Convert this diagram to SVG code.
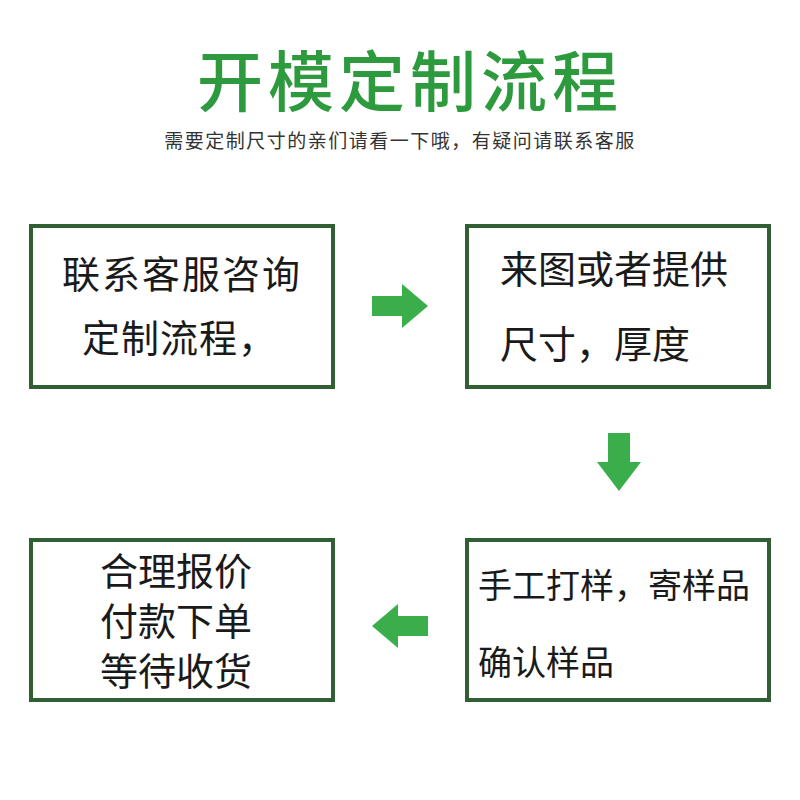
<svg xmlns="http://www.w3.org/2000/svg" width="800" height="800" viewBox="0 0 800 800">
<style>
.box{fill:#fff;stroke:#2f5f33;stroke-width:4}
.t{font-family:"Noto Sans CJK SC",sans-serif;fill:#1a1a1a;font-size:38px}
.s{font-size:34px}
.ar{fill:#3aae4a}
</style>
<rect width="800" height="800" fill="#fff"/>
<text x="410" y="106" text-anchor="middle" font-family="Noto Sans CJK SC,sans-serif" font-weight="500" font-size="66" fill="#2e9a3e" letter-spacing="5">开模定制流程</text>
<text x="400" y="148" text-anchor="middle" font-family="Noto Sans CJK SC,sans-serif" font-size="19" fill="#333" letter-spacing="1.5">需要定制尺寸的亲们请看一下哦，有疑问请联系客服</text>
<g id="n1"><rect class="box" x="31" y="226" width="302" height="161"/>
<text class="t" x="182" y="288" text-anchor="middle" letter-spacing="2">联系客服咨询</text>
<text class="t" x="82" y="352" letter-spacing="1">定制流程，</text></g>
<g id="n2"><rect class="box" x="467" y="226" width="302" height="161"/>
<text class="t" x="500" y="283">来图或者提供</text>
<text class="t" x="500" y="358">尺寸，厚度</text></g>
<g id="n3"><rect class="box" x="467" y="540" width="302" height="160"/>
<text class="t s" x="478" y="598">手工打样，寄样品</text>
<text class="t s" x="478" y="675">确认样品</text></g>
<g id="n4"><rect class="box" x="31" y="540" width="302" height="160"/>
<text class="t" x="176" y="585" text-anchor="middle">合理报价</text>
<text class="t" x="176" y="635" text-anchor="middle">付款下单</text>
<text class="t" x="176" y="685" text-anchor="middle">等待收货</text></g>
<g id="connectors">
<polygon class="ar" points="372,296 402,296 402,284 428,306 402,328 402,316 372,316"/>
<polygon class="ar" points="608,433 630,433 630,462 641,462 619,491 597,462 608,462"/>
<polygon class="ar" points="428,616 398,616 398,604 372,626 398,648 398,636 428,636"/>
</g>
</svg>
